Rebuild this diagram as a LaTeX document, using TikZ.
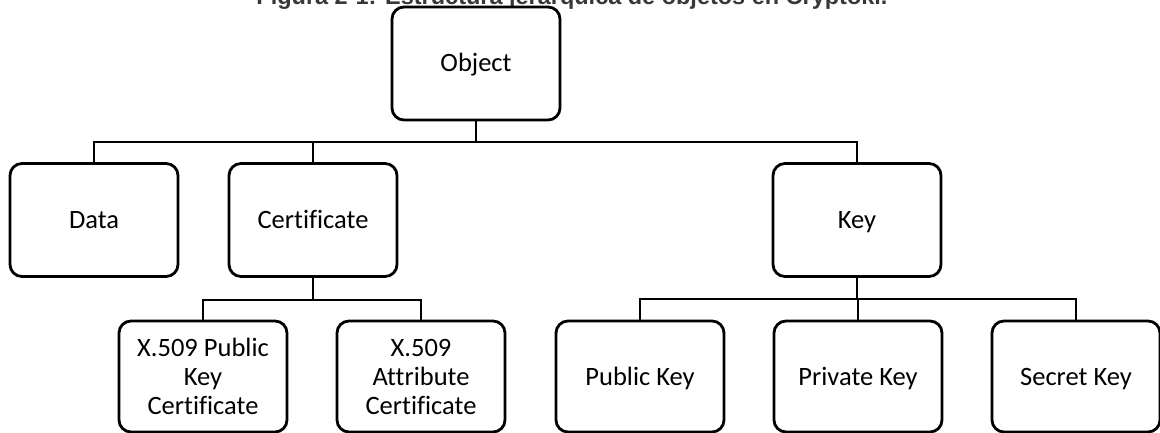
\documentclass[tikz,border=0pt]{standalone}
\usepackage{fontspec}
\setmainfont{Carlito}[Ligatures=NoCommon]
\newfontfamily\captionfont{Liberation Sans}
\begin{document}
\begin{tikzpicture}[x=1pt,y=-1pt,
  box/.style={draw=black, line width=2.8pt, rounded corners=12pt, fill=white,
    minimum width=168pt, align=center, inner sep=0pt,
    font=\fontsize{26.5}{29}\selectfont},
  oneline/.style={text height=17pt, text depth=0pt},
  tall/.style={box, oneline, minimum height=113pt},
  low/.style={box, minimum height=111pt},
  lowone/.style={low, oneline},
  link/.style={draw=black, line width=2.8pt}]
\useasboundingbox (0,0) rectangle (1160,433);

% caption above the tree (partly outside the page)
\node[anchor=base, text=black!78, inner sep=0pt] (cap) at (572,5)
  {\resizebox{631pt}{!}{\captionfont\bfseries Figura 2-1: Estructura jerárquica de objetos en Cryptoki.}};

% boxes
\node[tall] (obj)  at (476,63.5) {Object};
\node[tall] (data) at (94,220)   {Data};
\node[tall] (cert) at (313,220)  {Certificate};
\node[tall] (key)  at (857,220)  {Key};
\node[low] (xpk)  at (203,376.5) {X.509 Public\\Key\\Certificate};
\node[low] (xat)  at (421,376.5) {X.509\\Attribute\\Certificate};
\node[lowone] (pub)  at (640,376.5) {Public Key};
\node[lowone] (priv) at (858,376.5) {Private Key};
\node[lowone] (sec)  at (1076,376.5) {Secret Key};

% bus points
\coordinate (b1) at (476,142);
\coordinate (b2) at (313,300);
\coordinate (b3) at (857,299);

% connectors
\draw[link] (obj.south) -- (b1);
\draw[link] (b1) -| (data.north);
\draw[link] (b1) -| (cert.north);
\draw[link] (b1) -| (key.north);
\draw[link] (cert.south) -- (b2);
\draw[link] (b2) -| (xpk.north);
\draw[link] (b2) -| (xat.north);
\draw[link] (key.south) -- (b3);
\draw[link] (b3) -| (pub.north);
\draw[link] (b3) -| (priv.north);
\draw[link] (b3) -| (sec.north);
\end{tikzpicture}
\end{document}
